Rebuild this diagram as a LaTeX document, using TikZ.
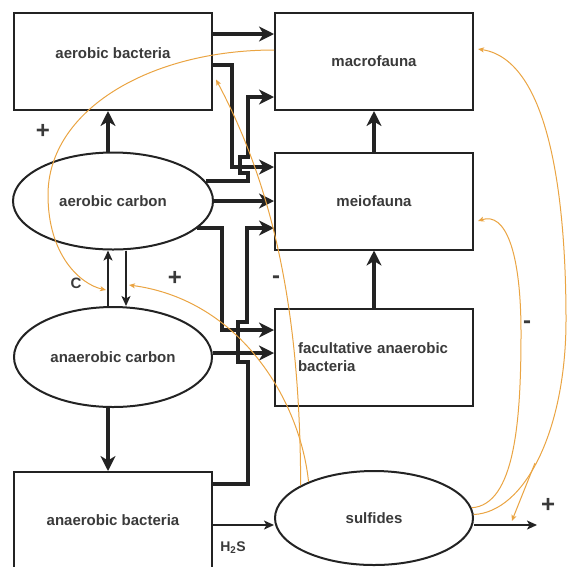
\documentclass[tikz,border=0pt]{standalone}
\usepackage{fontspec}
\setmainfont{Liberation Sans}
\usetikzlibrary{arrows.meta,shapes.geometric,calc,positioning}
\definecolor{linegray}{RGB}{35,35,35}
\definecolor{textgray}{RGB}{58,58,58}
\definecolor{fborange}{RGB}{234,164,66}
\tikzset{
every picture/.style={
line width=1pt
}}
\tikzset{
  box/.style={
    rectangle, draw=linegray, line width=2pt, inner sep=0pt,
    minimum width=198pt, minimum height=97pt,
    font=\bfseries\fontsize{15}{18}\selectfont, text=textgray
  },
  pool/.style={
    box, ellipse
  },
  lbl/.style={font=\bfseries\fontsize{15}{18}\selectfont, text=textgray},
  sign/.style={font=\bfseries\fontsize{24}{24}\selectfont, text=textgray, inner sep=0pt},
  flow/.style={draw=linegray, line width=4pt, -{Stealth[length=15pt,width=15pt,inset=4.5pt]}},
  thinflow/.style={draw=linegray, line width=1.6pt, -{Stealth[length=10pt,width=9pt,inset=2.5pt]}},
  effect/.style={draw=fborange, line width=1pt, -{Stealth[length=6pt,width=5pt,inset=1.5pt]}}
}

\begin{document}
\begin{tikzpicture}[x=1pt,y=-1pt]
  \clip (0,0) rectangle (569,566);

  % boxes and pools
  \node [box, label={[lbl,yshift=8pt]center:aerobic bacteria}] (ab) at (113,61.5) {};
  \node [box] (mf) at (374,61.5) {macrofauna};
  \node [box] (meio) at (374,201) {meiofauna};
  \node [box, text width=152pt, align=left] (fac) at (374,357) {facultative anaerobic\\bacteria};
  \node [pool, minimum width=200pt] (ac) at (113,201) {aerobic carbon};
  \node [pool, minimum height=100pt] (anc) at (113,357) {anaerobic carbon};
  \node [box] (anb) at (113,520.5) {anaerobic bacteria};
  \node [pool, minimum height=94pt] (sulf) at (374,518) {sulfides};
  \coordinate (out) at (537,525);

  % carbon flows
  \draw [flow] ([yshift=27.5pt]ab.east) -- ([yshift=27.5pt]mf.west);
  \draw [flow] ([yshift=-3.5pt]ab.east) -- ++(19,0) |- ([yshift=34pt]meio.west);
  \draw [flow] (ac.12) -- ++(42,0) -- ++(0,-8) -- ++(-8,0) -- ++(0,-16) -- ++(8,0) |- ([yshift=-35.5pt]mf.west);
  \draw [flow] (ac.east) -- (meio.west);
  \draw [flow] (ac.-18) -- ++(25,0) |- ([yshift=27pt]fac.west);
  \draw [flow] ([yshift=36.5pt]anb.east) -- ++(35,0) -- ++(0,-122) -- ++(-10,0) -- ++(0,-40) -- ++(9,0) |- ([yshift=-27pt]meio.west);
  \draw [flow] ([yshift=4pt]anc.east) -- ([yshift=4pt]fac.west);
  \draw [flow] ([xshift=-5pt]ac.north) -- ([xshift=-5pt]ab.south);
  \draw [flow] ([xshift=-5pt]anc.south) -- ([xshift=-5pt]anb.north);
  \foreach \from/\to in {fac/meio, meio/mf}
    \draw [flow] (\from.north) -- (\to.south);

  \draw [thinflow] ([xshift=-5pt]anc.north) -- ([xshift=-5pt]ac.south);
  \draw [thinflow] ([xshift=13pt]ac.south) -- ([xshift=13pt]anc.north);
  \draw [thinflow] (anb.east |- out) -- (sulf.west |- out);
  \draw [thinflow] (sulf.east |- out) -- (out);

  % feedbacks
  \coordinate (cup) at (106,290);
  \coordinate (cdown) at (129,285);
  \coordinate (fork) at (535,463);
  \draw [effect] ([yshift=11.5pt]mf.west) .. controls (150,50) and (48,110) .. (48,195)
    .. controls (48,255) and (80,284) .. (cup);
  \draw [effect] (sulf.156) .. controls (300,330) and (280,200) .. ([xshift=3pt,yshift=-18pt]ab.east);
  \draw [effect] (sulf.151) .. controls (300,400) and (240,300) .. (cdown);
  \draw [effect] (sulf.6) .. controls (515,505) and (521,420) .. (521,333)
    .. controls (521,250) and (505,212) .. ([xshift=4pt,yshift=-20pt]meio.east);
  \draw [effect] (sulf.2) .. controls (525,512) and (566,430) .. (566,320)
    .. controls (566,200) and (550,60) .. ([xshift=4pt,yshift=12.5pt]mf.east);
  \draw [effect] (fork) -- ($(sulf.east |- out)!0.6!(out)+(0,-4)$);

  % signs
  \node [sign] (plusab) at (43,131) {+};
  \node [sign] (plusc) at (175,278) {+};
  \node [lbl] (clbl) at (76,283) {C};
  \node [sign] (minusfac) at (276,280) {-};
  \node [sign] (minusmeio) at (527,325) {-};
  \node [sign] (plusout) at (548,505) {+};
  \node [lbl, font=\bfseries\fontsize{14}{16}\selectfont] (h2s) at (233,548) {H\textsubscript{2}S};
\end{tikzpicture}
\end{document}
